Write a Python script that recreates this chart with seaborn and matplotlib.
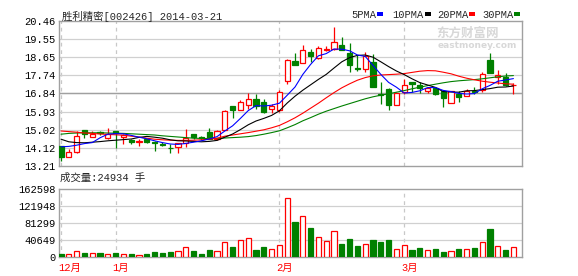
import numpy as np
import pandas as pd
import matplotlib
matplotlib.use("Agg")
import matplotlib.pyplot as plt
import matplotlib.transforms as mtransforms
from matplotlib.patches import Rectangle
import seaborn as sns

# ---------------- data ----------------
opens = [14.20, 13.66, 13.92, 15.00, 14.67, 14.90, 14.60, 14.98, 14.67, 14.50,
         14.42, 14.56, 14.40, 14.33, 14.12, 14.14, 14.37, 14.80, 14.66, 14.91,
         14.58, 15.00, 16.19, 15.99, 16.27, 16.55, 16.40, 16.07, 15.99, 17.48,
         18.47, 18.36, 18.89, 18.61, 19.02, 19.05, 19.25, 18.84, 18.10, 18.06,
         18.42, 16.80, 17.07, 16.27, 16.90, 17.43, 17.28, 16.98, 17.10, 16.98,
         16.37, 16.82, 16.69, 16.95, 17.02, 18.52, 17.66, 17.66, 17.25]
highs = [14.20, 14.04, 14.95, 15.00, 14.95, 14.98, 15.12, 14.98, 14.83, 14.58,
         14.58, 14.56, 14.44, 14.42, 14.30, 14.37, 15.05, 14.80, 14.72, 15.13,
         15.03, 16.02, 16.19, 16.52, 16.87, 16.82, 16.55, 16.33, 17.00, 18.55,
         18.84, 19.27, 19.05, 19.20, 19.20, 20.16, 19.66, 19.38, 18.75, 18.89,
         18.81, 17.40, 17.10, 16.90, 17.56, 17.43, 17.40, 17.15, 17.15, 17.00,
         16.98, 16.98, 17.05, 17.15, 17.90, 18.85, 18.01, 17.85, 17.35]
lows = [13.46, 13.64, 13.87, 14.63, 14.64, 14.78, 14.55, 14.10, 14.33, 14.30,
        14.22, 14.37, 13.95, 14.22, 13.84, 13.84, 14.15, 14.55, 14.50, 14.58,
        14.50, 15.00, 15.63, 15.99, 16.07, 16.07, 15.85, 15.85, 15.90, 17.31,
        18.27, 18.36, 18.40, 18.55, 18.95, 19.00, 19.00, 17.93, 17.95, 17.93,
        17.15, 16.32, 16.02, 16.27, 16.82, 16.90, 16.88, 16.85, 16.75, 16.16,
        16.37, 16.40, 16.69, 16.82, 16.90, 17.84, 17.31, 17.22, 16.80]
closes = [13.67, 13.89, 14.70, 14.83, 14.83, 14.86, 14.80, 14.85, 14.75, 14.42,
          14.44, 14.40, 14.35, 14.27, 14.10, 14.34, 14.63, 14.67, 14.60, 14.58,
          14.94, 15.96, 15.99, 16.42, 16.55, 16.19, 15.91, 16.19, 16.93, 18.52,
          18.27, 19.02, 18.69, 19.10, 19.05, 19.43, 19.00, 18.26, 18.06, 18.72,
          17.18, 16.74, 16.27, 16.85, 17.28, 17.31, 17.12, 17.10, 16.82, 16.62,
          16.98, 16.66, 16.98, 16.90, 17.81, 17.84, 17.74, 17.25, 17.28]
volumes = [8000, 7000, 15000, 10000, 9000, 10000, 7000, 10000, 7000, 7000,
           5000, 7000, 12000, 10000, 12000, 14000, 23000, 15000, 8000, 17000,
           14000, 36000, 24000, 40000, 45000, 17000, 24000, 19000, 28000, 141000,
           84000, 98000, 70000, 47000, 38000, 62000, 31000, 43000, 26000, 31000,
           41000, 36000, 41000, 18000, 28000, 17000, 22000, 17000, 19000, 12000,
           14000, 19000, 19000, 22000, 36000, 67000, 26000, 17000, 24934]
ma5 = [14.17, 14.19, 14.25, 14.33, 14.38, 14.62, 14.80, 14.83, 14.82, 14.74,
       14.65, 14.57, 14.47, 14.38, 14.31, 14.29, 14.34, 14.40, 14.47, 14.56,
       14.68, 14.96, 15.22, 15.59, 15.98, 16.23, 16.21, 16.25, 16.35, 16.75,
       17.16, 17.79, 18.29, 18.72, 18.83, 19.06, 19.05, 18.97, 18.76, 18.69,
       18.24, 17.79, 17.39, 17.15, 16.86, 16.89, 16.97, 17.13, 17.13, 16.99,
       16.93, 16.84, 16.81, 16.83, 17.07, 17.24, 17.45, 17.51, 17.58]
ma10 = [14.55, 14.42, 14.38, 14.37, 14.40, 14.43, 14.47, 14.50, 14.53, 14.56,
        14.64, 14.69, 14.65, 14.60, 14.52, 14.47, 14.46, 14.44, 14.42, 14.44,
        14.49, 14.65, 14.81, 15.03, 15.27, 15.46, 15.59, 15.74, 15.97, 16.36,
        16.70, 17.00, 17.27, 17.54, 17.79, 18.11, 18.42, 18.63, 18.74, 18.76,
        18.65, 18.42, 18.18, 17.96, 17.78, 17.57, 17.38, 17.26, 17.14, 16.93,
        16.91, 16.90, 16.97, 16.98, 17.03, 17.08, 17.15, 17.16, 17.21]
ma20 = [14.96, 14.93, 14.90, 14.86, 14.84, 14.81, 14.79, 14.77, 14.75, 14.70,
        14.66, 14.60, 14.55, 14.52, 14.50, 14.49, 14.49, 14.50, 14.52, 14.55,
        14.60, 14.70, 14.76, 14.82, 14.88, 14.95, 15.02, 15.12, 15.24, 15.42,
        15.62, 15.85, 16.10, 16.35, 16.62, 16.88, 17.12, 17.32, 17.50, 17.63,
        17.72, 17.76, 17.78, 17.80, 17.83, 17.89, 17.95, 17.98, 17.97, 17.90,
        17.82, 17.70, 17.60, 17.52, 17.45, 17.40, 17.36, 17.32, 17.30]
ma30 = [14.80, 14.84, 14.86, 14.87, 14.87, 14.87, 14.86, 14.85, 14.84, 14.82,
        14.80, 14.78, 14.76, 14.72, 14.69, 14.66, 14.63, 14.60, 14.59, 14.58,
        14.59, 14.61, 14.63, 14.65, 14.68, 14.73, 14.80, 14.88, 14.97, 15.12,
        15.28, 15.47, 15.63, 15.80, 15.95, 16.08, 16.21, 16.33, 16.45, 16.57,
        16.67, 16.75, 16.82, 16.90, 16.98, 17.07, 17.15, 17.23, 17.30, 17.37,
        17.43, 17.47, 17.50, 17.53, 17.57, 17.62, 17.67, 17.71, 17.73]

month_pos = [0, 7, 28, 44]
month_labels = ["12月", "1月", "2月", "3月"]
price_ticks = [13.21, 14.12, 15.02, 15.93, 16.84, 17.74, 18.65, 19.55, 20.46]
vol_ticks = [0, 40649, 81299, 121948, 162598]
title_text = "胜利精密[002426] 2014-03-21"
volume_text = "成交量:24934 手"
legend_names = ["5PMA", "10PMA", "20PMA", "30PMA"]
legend_colors = ["#0000ff", "#000000", "#ff0000", "#008000"]

# ---------------- style ----------------
sns.set_style("white")
plt.rcParams['font.family'] = ['Liberation Mono', 'Noto Sans CJK SC', 'DejaVu Sans']
RED, GREEN = "#ff0000", "#008000"
FRAME, GRID = "#a0a0a0", "#d0d0d0"
FS = 7.5

W, H = 578, 276
fig = plt.figure(figsize=(W / 100, H / 100), dpi=100)
fig.patch.set_facecolor("white")


def rect(l, t, r, b):
    return [l / W, 1 - b / H, (r - l) / W, (b - t) / H]


ax = fig.add_axes(rect(59, 21, 522, 166))
axv = fig.add_axes(rect(59, 189, 522, 257))

n = len(closes)
df = pd.DataFrame({"i": np.arange(n), "o": opens, "h": highs, "l": lows, "c": closes,
                   "v": volumes, "ma5": ma5, "ma10": ma10, "ma20": ma20, "ma30": ma30})
up = (df.c >= df.o).values
cols = np.where(up, RED, GREEN)
body_bottom = np.minimum(df.o, df.c)
body_h = np.maximum(np.abs(df.c - df.o), 0.025)
BW = 0.68

# candles
ax.vlines(df.i, df.l, df.h, colors=cols, linewidth=0.9, zorder=3)
ax.bar(df.i[up], body_h[up], bottom=body_bottom[up], width=BW, facecolor="white",
       edgecolor=RED, linewidth=0.9, zorder=4)
ax.bar(df.i[~up], body_h[~up], bottom=body_bottom[~up], width=BW, facecolor=GREEN,
       edgecolor=GREEN, linewidth=0.9, zorder=4)

# moving averages via seaborn
for name, colr in zip(["ma30", "ma20", "ma10", "ma5"], ["#008000", "#ff0000", "#000000", "#0000ff"]):
    sns.lineplot(data=df, x="i", y=name, ax=ax, color=colr, linewidth=0.8, zorder=5,
                 legend=False)

# volume bars
axv.bar(df.i[up], df.v[up], width=BW, facecolor="white", edgecolor=RED, linewidth=0.9, zorder=4)
axv.bar(df.i[~up], df.v[~up], width=BW, facecolor=GREEN, edgecolor=GREEN, linewidth=0.9, zorder=4)

xlim = (-0.26, 59.1)
for a in (ax, axv):
    a.set_xlim(*xlim)
    a.set_xlabel("")
    a.set_ylabel("")
    for s in a.spines.values():
        s.set_color(FRAME)
        s.set_linewidth(1.0)
    for p in month_pos:
        a.axvline(p, color="#c8c8c8", linestyle=(0, (3, 3)), linewidth=0.9, zorder=1)
    a.tick_params(axis="y", length=0, pad=2.2, labelsize=FS, colors="black")

ax.set_ylim(price_ticks[0], price_ticks[-1])
ax.set_yticks(price_ticks)
ax.set_yticklabels([f"{t:.2f}" for t in price_ticks])
for t in price_ticks[1:-1]:
    ax.axhline(t, color=GRID, linewidth=0.9, zorder=1)
ax.axhline(price_ticks[len(price_ticks) // 2], color=FRAME, linewidth=1.0, zorder=1)
ax.set_xticks([])

axv.set_ylim(vol_ticks[0], vol_ticks[-1])
axv.set_yticks(vol_ticks)
axv.set_yticklabels([str(v) for v in vol_ticks])
for t in vol_ticks[1:-1]:
    axv.axhline(t, color=GRID, linewidth=0.9, zorder=1)
axv.set_xticks(month_pos)
axv.set_xticklabels(month_labels, color=RED, fontsize=FS, ha="left")
axv.tick_params(axis="x", length=0, pad=4.0)
off = mtransforms.ScaledTranslation(-3 / 100, 0, fig.dpi_scale_trans)
for lab in axv.get_xticklabels():
    lab.set_transform(lab.get_transform() + off)

# texts
fig.text(62 / W, 1 - 16 / H, title_text, fontsize=FS, ha="left", va="center")
fig.text(60 / W, 1 - 178 / H, volume_text, fontsize=FS, ha="left", va="center")

leg_x = [351, 392, 437, 482]
sq_x = [377, 425, 469, 514]
for name, colr, lx, sx in zip(legend_names, legend_colors, leg_x, sq_x):
    fig.text(lx / W, 1 - 14.5 / H, name, fontsize=FS, ha="left", va="center")
    fig.patches.append(Rectangle((sx / W, 1 - 15.5 / H), 6 / W, 3 / H,
                                 transform=fig.transFigure, facecolor=colr,
                                 edgecolor="none"))

# watermark
fig.text(468 / W, 1 - 33 / H, "东方财富网", fontsize=9, color="#d8d8d8",
         ha="center", va="center", fontweight="bold", family=["Noto Sans CJK SC"])
fig.text(477 / W, 1 - 46 / H, "eastmoney.com", fontsize=6.5, color="#d8d8d8",
         ha="center", va="center", fontweight="bold", family=["DejaVu Sans"])

fig.savefig("out.png", dpi=100, facecolor="white")
